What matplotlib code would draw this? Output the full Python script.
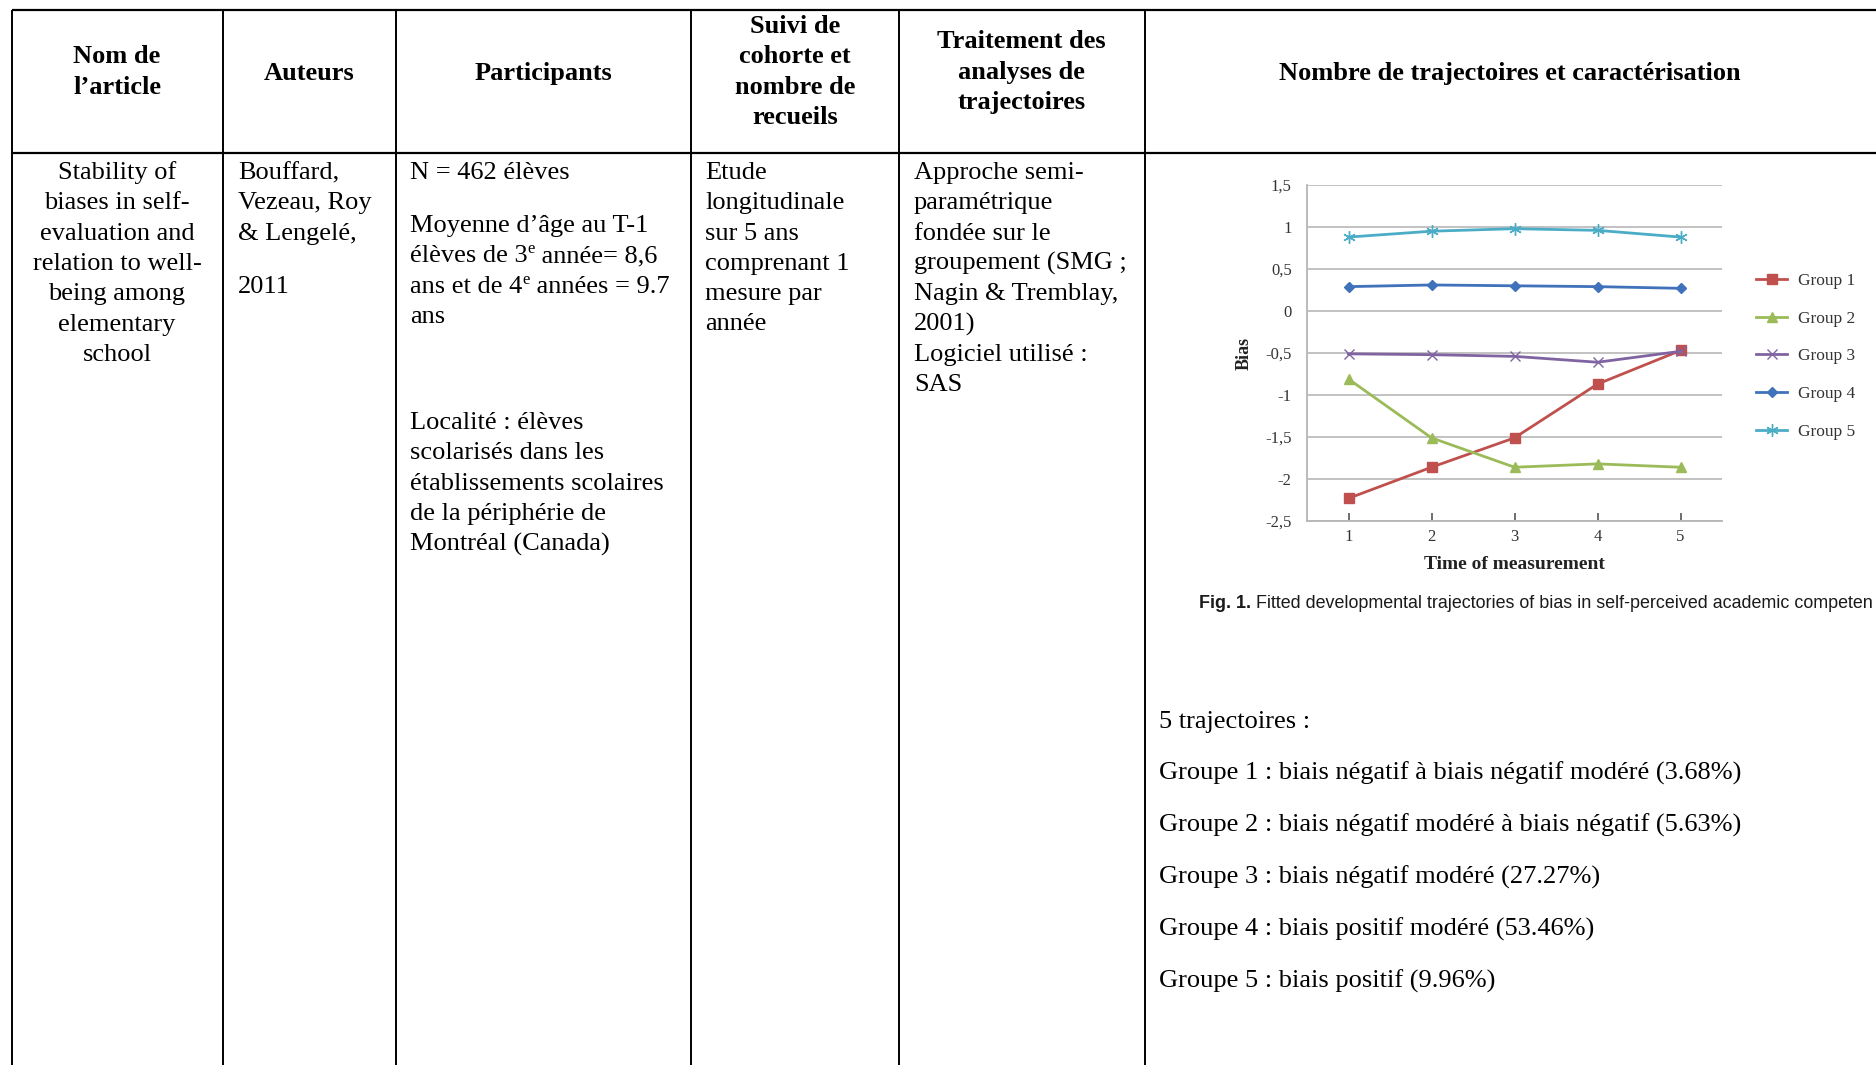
import matplotlib
matplotlib.use("Agg")
import matplotlib.pyplot as plt
from matplotlib import font_manager

# ------------------------------------------------------------------ data
header_col1 = ["Nom de", "l’article"]
header_col2 = ["Auteurs"]
header_col3 = ["Participants"]
header_col4 = ["Suivi de", "cohorte et", "nombre de", "recueils"]
header_col5 = ["Traitement des", "analyses de", "trajectoires"]
header_col6 = ["Nombre de trajectoires et caractérisation"]

article_lines = ["Stability of", "biases in self-", "evaluation and",
                 "relation to well-", "being among", "elementary", "school"]
auteurs_lines = ["Bouffard,", "Vezeau, Roy", "& Lengelé,"]
auteurs_year = "2011"
participants_n = "N = 462 élèves"
participants_age = [("Moyenne d’âge au T-1", "", ""),
                    ("élèves de 3", "e", " année= 8,6"),
                    ("ans et de 4", "e", " années = 9.7"),
                    ("ans", "", "")]
participants_loc = ["Localité : élèves", "scolarisés dans les",
                    "établissements scolaires", "de la périphérie de",
                    "Montréal (Canada)"]
suivi_lines = ["Etude", "longitudinale", "sur 5 ans", "comprenant 1",
               "mesure par", "année"]
traitement_lines = ["Approche semi-", "paramétrique", "fondée sur le",
                    "groupement (SMG ;", "Nagin & Tremblay,", "2001)",
                    "Logiciel utilisé :", "SAS"]
trajectoires_title = "5 trajectoires :"
trajectoires_lines = ["Groupe 1 : biais négatif à biais négatif modéré (3.68%)",
                      "Groupe 2 : biais négatif modéré à biais négatif (5.63%)",
                      "Groupe 3 : biais négatif modéré (27.27%)",
                      "Groupe 4 : biais positif modéré (53.46%)",
                      "Groupe 5 : biais positif (9.96%)"]

time_points = [1, 2, 3, 4, 5]
group_labels = ["Group 1", "Group 2", "Group 3", "Group 4", "Group 5"]
group1 = [-2.23, -1.86, -1.51, -0.87, -0.47]
group2 = [-0.81, -1.51, -1.86, -1.82, -1.86]
group3 = [-0.51, -0.52, -0.54, -0.61, -0.48]
group4 = [0.29, 0.31, 0.30, 0.29, 0.27]
group5 = [0.88, 0.95, 0.98, 0.96, 0.88]
y_ticks = [1.5, 1, 0.5, 0, -0.5, -1, -1.5, -2, -2.5]
y_tick_labels = ["1,5", "1", "0,5", "0", "-0,5", "-1", "-1,5", "-2", "-2,5"]
x_label = "Time of measurement"
y_label = "Bias"
caption_bold = "Fig. 1."
caption_rest = " Fitted developmental trajectories of bias in self-perceived academic competen"

# ------------------------------------------------------------------ style
SERIF = "Liberation Serif"
FS = 19
names = {f.name for f in font_manager.fontManager.ttflist}
if "Liberation Sans Narrow" in names:
    CAP_FAMILY, CAP_FS = "Liberation Sans Narrow", 15.5
else:
    CAP_FAMILY, CAP_FS = "Liberation Sans", 12.9

fig = plt.figure(figsize=(18.76, 10.65), dpi=100)
ax = fig.add_axes([0, 0, 1, 1])
ax.set_xlim(0, 1876)
ax.set_ylim(1065, 0)
ax.axis("off")

# table grid
col_x = [11.5, 222.5, 396, 690.5, 899, 1144.5]
top_y, head_y = 9.6, 153
ax.hlines([top_y, head_y], col_x[0], 1876, color="black", lw=1.6)
ax.vlines(col_x, top_y, 1065, color="black", lw=1.4)

L = 30.3
B0 = 179
HB = 33


def put(x, y, s, ha="left", bold=False, size=FS):
    return ax.text(x, y, s, ha=ha, va="baseline", family=SERIF,
                   fontweight="bold" if bold else "normal", fontsize=size,
                   color="black")


# headers
centers = [(col_x[i] + col_x[i + 1]) / 2 for i in range(5)] + [1510]
for i, ln in enumerate(header_col1):
    put(centers[0], HB + L * (i + 1), ln, ha="center", bold=True)
put(centers[1], 80, header_col2[0], ha="center", bold=True)
put(centers[2], 80, header_col3[0], ha="center", bold=True)
for i, ln in enumerate(header_col4):
    put(centers[3], HB + L * i, ln, ha="center", bold=True)
for i, ln in enumerate(header_col5):
    put(centers[4], 48.5 + L * i, ln, ha="center", bold=True)
put(centers[5], 80, header_col6[0], ha="center", bold=True)

# body column 1
for i, ln in enumerate(article_lines):
    put(centers[0], B0 + L * i, ln, ha="center")
# column 2
for i, ln in enumerate(auteurs_lines):
    put(238, B0 + L * i, ln)
put(238, B0 + L * 3.75, auteurs_year)
# column 3
put(410, B0, participants_n)
for i, (a, sup, b) in enumerate(participants_age):
    y = B0 + L * (1.75 + i)
    t1 = put(410, y, a)
    if sup:
        t2 = ax.annotate(sup, xy=(1, y - 9), xycoords=(t1, "data"),
                         va="baseline", ha="left", family=SERIF, fontsize=12)
        ax.annotate(b, xy=(1, y), xycoords=(t2, "data"), va="baseline",
                    ha="left", family=SERIF, fontsize=FS)
for i, ln in enumerate(participants_loc):
    put(410, B0 + L * (8.25 + i), ln)
# column 4
for i, ln in enumerate(suivi_lines):
    put(705, B0 + L * i, ln)
# column 5
for i, ln in enumerate(traitement_lines):
    put(914, B0 + L * i, ln)
# column 6 text
put(1159, 728, trajectoires_title)
for i, ln in enumerate(trajectoires_lines):
    put(1159, 780 + 52 * i, ln)

# caption
cap1 = ax.text(1199, 608, caption_bold, ha="left", va="baseline",
               family=CAP_FAMILY, fontsize=CAP_FS, fontweight="bold",
               color="#1a1a1a")
ax.annotate(caption_rest, xy=(1, 608), xycoords=(cap1, "data"), ha="left",
            va="baseline", family=CAP_FAMILY, fontsize=CAP_FS,
            color="#1a1a1a", annotation_clip=False)

# ------------------------------------------------------------------ chart
cax = fig.add_axes([1307 / 1876, 1 - 521 / 1065, 415 / 1876, 336 / 1065])
series = [group1, group2, group3, group4, group5]
colors = ["#C0504D", "#9BBB59", "#8064A2", "#3F72BA", "#4BACC6"]
markers = ["s", "^", "x", "D", (6, 2, 0)]
msizes = [7, 7, 7, 5.5, 9]
for vals, lab, c, m, ms in zip(series, group_labels, colors, markers, msizes):
    cax.plot(time_points, vals, color=c, lw=2.0, marker=m, markersize=ms,
             markeredgewidth=1.0, markerfacecolor=c, markeredgecolor=c,
             label=lab, zorder=3)

cax.set_xlim(0.5, 5.5)
cax.set_ylim(min(y_ticks), max(y_ticks))
cax.set_yticks(y_ticks)
cax.set_yticklabels(y_tick_labels)
cax.set_xticks(time_points)
cax.set_xticklabels([str(t) for t in time_points])
cax.grid(axis="y", color="#bdbdbd", lw=1.3)
cax.set_axisbelow(True)
for s in ["top", "right"]:
    cax.spines[s].set_visible(False)
for s in ["left", "bottom"]:
    cax.spines[s].set_color("#b5b5b5")
    cax.spines[s].set_linewidth(1.3)
cax.tick_params(axis="y", length=0, pad=11, labelsize=12, labelcolor="#333333")
cax.tick_params(axis="x", direction="in", length=6, width=1.2,
                color="#555555", pad=6, labelsize=12, labelcolor="#333333")
for t in cax.get_xticklabels() + cax.get_yticklabels():
    t.set_family(SERIF)
cax.set_xlabel(x_label, family=SERIF, fontweight="bold", fontsize=14,
               labelpad=8, color="#222222")
cax.set_ylabel(y_label, family=SERIF, fontweight="bold", fontsize=13,
               labelpad=9, color="#222222")
leg = cax.legend(loc="center left", bbox_to_anchor=(1.082, 0.49),
                 frameon=False, borderpad=0, borderaxespad=0,
                 handlelength=1.8, handletextpad=0.6, labelspacing=1.25,
                 prop={"family": SERIF, "size": 12.5})
for t in leg.get_texts():
    t.set_color("#333333")

fig.savefig("out.png", dpi=100)
